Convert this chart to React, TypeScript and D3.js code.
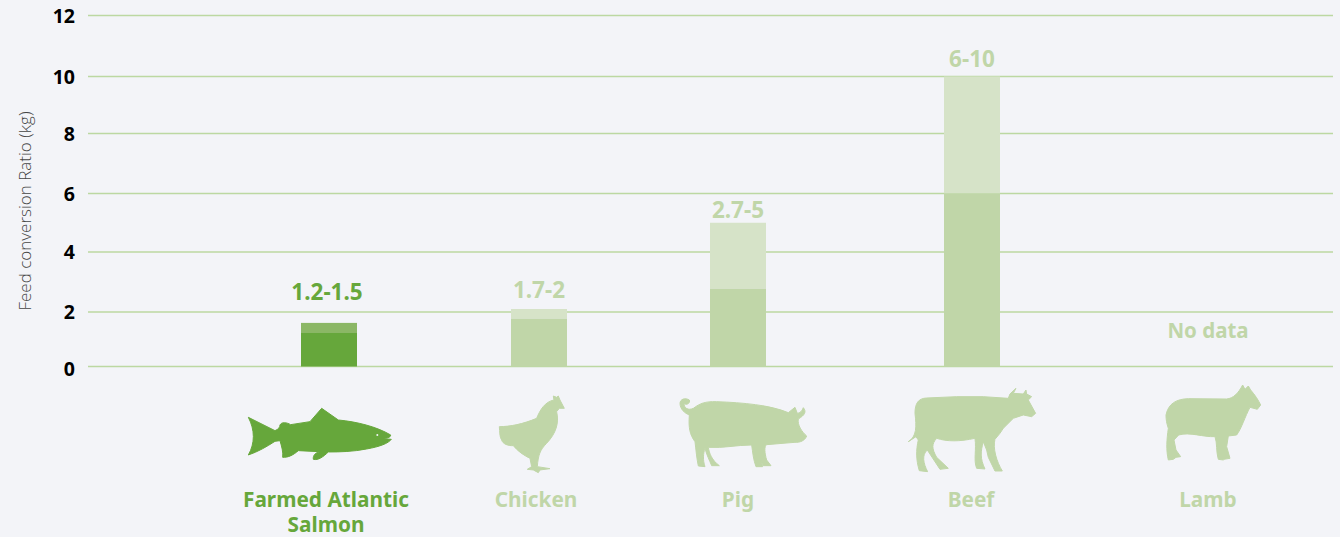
import React from 'react';
import * as d3 from 'd3';

const categories = ['Farmed Atlantic Salmon', 'Chicken', 'Pig', 'Beef', 'Lamb'];
const lowValues: (number | null)[] = [1.23, 1.75, 2.77, 6, null];
const highValues: (number | null)[] = [1.6, 2.1, 5, 10, null];
const rangeLabels = ['1.2-1.5', '1.7-2', '2.7-5', '6-10', 'No data'];
const yTicks = [0, 2, 4, 6, 8, 10, 12];
const yTickPixels = [366.5, 312, 252, 193.5, 133.5, 76.5, 15.5];
const centerPixels = [329, 539, 738, 972, 1208];
const labelPixels = [326, 536, 738, 971, 1208];

const DARK = '#66a73b', DARK_TOP = '#8bb765', LIGHT = '#c0d6a8', LIGHT_TOP = '#d6e3c8', GRID = '#bcd8a2', BG = '#f3f4f8';
const FONT = '"Noto Sans", sans-serif';

const fish = 'M55,442 L135,482 C145,478 150,472 150,465 C155,455 170,457 182,464 L240,455 L275,415 L325,450 C380,455 440,470 482,495 C482,503 470,505 458,506 L484,508 C475,520 450,530 410,537 C370,545 330,546 295,546 C280,560 265,572 250,568 C248,555 258,548 268,545 L205,542 C190,555 175,563 158,562 C160,545 155,530 150,512 L135,514 C110,530 85,545 55,555 C75,520 75,480 55,442 Z';
const chicken = 'M808,470 C840,470 880,462 920,445 C930,420 945,395 972,390 L970,378 L980,382 L985,378 L990,390 L1003,415 L988,415 L980,425 C988,460 978,490 950,520 C930,540 925,555 922,590 L960,596 L930,600 L925,608 L910,600 L892,598 L905,590 L900,565 C880,555 865,545 850,527 C835,528 818,522 815,510 C808,500 810,485 808,470 Z';
const pig = 'M60,100 C60,88 75,82 88,90 C92,98 80,108 72,100 C72,115 85,122 100,115 C120,100 135,94 170,95 C250,98 330,105 385,128 L405,112 L412,130 C420,128 425,125 430,113 C440,125 435,135 415,147 C412,165 425,185 440,198 C435,212 420,218 405,217 L320,224 C312,228 314,250 320,270 L333,287 L310,287 L303,272 L308,290 L288,290 C280,270 278,245 275,225 C230,225 190,235 145,232 C148,250 155,270 178,287 L155,287 C148,270 140,255 135,235 C130,250 128,270 135,290 L115,288 C110,265 108,240 105,215 C90,195 85,175 88,135 C75,130 60,118 60,100 Z';
const cow = 'M765,130 C765,100 775,85 800,84 L890,80 L970,80 L1045,85 L1050,72 L1068,55 L1060,70 L1090,72 L1098,60 L1100,72 L1115,80 L1105,90 L1127,130 L1115,140 L1090,135 L1060,145 L1030,175 L1020,190 L1005,208 C998,235 1010,275 1027,303 L1005,303 L985,262 L980,240 L970,215 C962,245 960,265 975,297 L950,295 C940,270 950,240 945,205 C900,215 860,215 830,205 C815,222 815,235 830,262 L865,295 L840,298 L802,240 C785,255 790,280 803,305 L778,302 C768,270 768,240 775,210 L768,200 L745,215 C770,200 770,170 765,130 Z';
const lamb = 'M198,345 C205,310 230,297 265,296 L380,297 C400,295 415,280 428,255 L435,268 L445,258 L452,270 C465,285 475,300 482,315 L472,328 L450,322 C435,350 425,385 410,405 L385,408 L380,440 L390,475 L372,478 L370,480 L355,478 C348,455 352,430 345,410 C310,412 270,395 236,405 L222,420 L228,450 L242,470 L228,472 L220,478 L205,480 C198,450 200,420 205,385 C200,370 198,360 198,345 Z';

export default function App() {
  const y = d3.scaleLinear().domain(yTicks).range(yTickPixels);
  const x = d3.scaleOrdinal<string, number>().domain(categories).range(centerPixels);
  const lx = d3.scaleOrdinal<string, number>().domain(categories).range(labelPixels);
  const barW = 56;
  const rangeLabelY = [300, 298, 218, 67, 338];
  const rangeLabelX = [327, 539, 738, 972, 1208];
  const soft = (fill: string) => ({ fill, stroke: fill, strokeWidth: 3, strokeLinejoin: 'round' as const });
  return (
    <svg width={1340} height={537} style={{ position: 'fixed', left: 0, top: 0, background: BG, fontFamily: FONT }}>
      <rect width={1340} height={537} fill={BG} />
      {yTicks.map((t, i) => (
        <g key={t}>
          <line x1={88} x2={1333} y1={y(t)} y2={y(t)} stroke={GRID} strokeWidth={1.3} />
          <text x={75} y={y(t) + (i === 0 ? 9 : 7)} textAnchor="end" fontSize={19.5} fontWeight={700} fill="#000" fontFamily='"Open Sans", sans-serif'>{t}</text>
        </g>
      ))}
      <text transform="translate(31,211) rotate(-90)" textAnchor="middle" fontSize={17} fill="#444" fontFamily='"Open Sans", sans-serif' style={{ fontWeight: 300 }}>Feed conversion Ratio (kg)</text>
      {categories.map((c, i) => {
        const lo = lowValues[i], hi = highValues[i];
        if (lo == null || hi == null) return null;
        const x0 = x(c) - barW / 2;
        return (
          <g key={c}>
            <rect x={x0} width={barW} y={y(hi)} height={y(lo) - y(hi)} fill={i === 0 ? DARK_TOP : LIGHT_TOP} />
            <rect x={x0} width={barW} y={y(lo)} height={y(0) - y(lo)} fill={i === 0 ? DARK : LIGHT} />
          </g>
        );
      })}
      {categories.map((c, i) => (
        <text key={c} x={rangeLabelX[i]} y={rangeLabelY[i]} textAnchor="middle" fontSize={i === 4 ? 20.5 : 22.5} fontWeight={700} fill={i === 0 ? DARK : LIGHT}>{rangeLabels[i]}</text>
      ))}
      <g transform="translate(230,270) scale(0.3333)">
        <path d={fish} {...soft(DARK)} />
        <circle cx={442} cy={495} r={3} fill={BG} />
        <path d={chicken} {...soft(LIGHT)} />
      </g>
      <g transform="translate(660,370) scale(0.3333)">
        <path d={pig} {...soft(LIGHT)} />
        <path d={cow} {...soft(LIGHT)} />
      </g>
      <g transform="translate(1100,300) scale(0.3333)">
        <path d={lamb} {...soft(LIGHT)} />
      </g>
      <text x={lx(categories[0])} y={507} textAnchor="middle" fontSize={20.8} fontWeight={700} fill={DARK}>Farmed Atlantic</text>
      <text x={lx(categories[0])} y={532} textAnchor="middle" fontSize={20.8} fontWeight={700} fill={DARK}>Salmon</text>
      {categories.slice(1).map(c => (
        <text key={c} x={lx(c)} y={507} textAnchor="middle" fontSize={20.8} fontWeight={700} fill={LIGHT}>{c}</text>
      ))}
    </svg>
  );
}
